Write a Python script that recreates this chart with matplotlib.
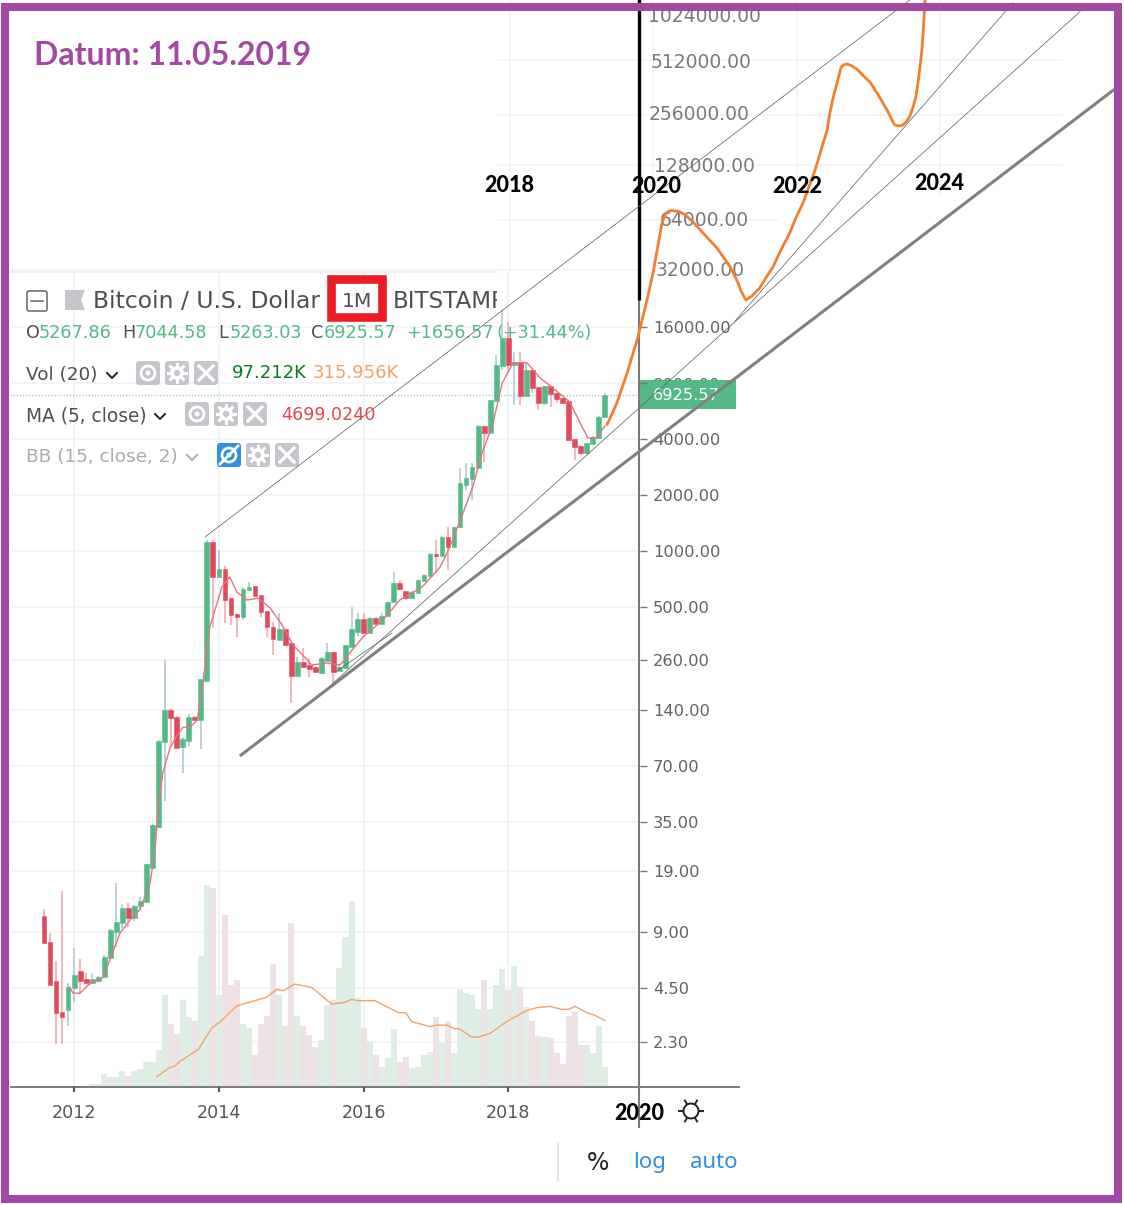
import numpy as np
import matplotlib
matplotlib.use("Agg")
import matplotlib.pyplot as plt
from matplotlib.patches import Rectangle, FancyBboxPatch, Circle, Polygon

# monthly candles, aug 2011 - may 2019
opens = [10.9, 7.91, 4.88, 3.33, 3.41, 4.47, 5.52, 5, 4.75, 4.88, 5.12, 6.49, 8.95, 9.98, 12.1, 10.6, 12.3, 12.9, 19.8, 32.9,
         94, 140, 128, 88.4, 95, 128, 124, 200, 1118, 725, 800, 558, 459, 442, 619, 648, 580, 475, 389, 332,
         381, 320, 213, 253, 243, 237, 220, 257, 286, 227, 234, 305, 367, 431, 363, 437, 405, 448, 532, 673,
         610, 558, 598, 690, 735, 964, 940, 1189, 1051, 1345, 2262, 2440, 2795, 4700, 4310, 6400, 9880, 13960, 10000, 10400,
         6820, 9390, 7620, 6250, 7700, 7060, 6640, 6400, 4000, 3665, 3364, 3760, 4050, 5267.86]
highs = [11.9, 8.84, 6.25, 14.8, 4.75, 7.35, 6.41, 5.38, 5.38, 5.2, 6.72, 9.3, 16.4, 12.6, 12.8, 12.5, 13.8, 20.8, 34, 96,
         259, 141, 129, 100, 133, 129, 206, 1146, 1146, 1012, 830, 560, 461, 640, 681, 650, 582, 477, 415, 463,
         383, 322, 270, 301, 266, 238, 270, 320, 288, 243, 313, 500, 463, 463, 440, 440, 463, 535, 771, 698,
         612, 610, 702, 750, 970, 1146, 1200, 1345, 1350, 2795, 2970, 2970, 4750, 4720, 6500, 11314, 19700, 17000, 11750, 11750,
         10300, 9450, 7650, 7750, 7720, 7080, 6660, 6420, 4020, 3680, 3820, 4130, 5300, 7044.58]
lows = [7.81, 4.64, 2.23, 2.23, 2.79, 3.77, 4.16, 4.75, 4.75, 4.85, 5.1, 6.45, 7.45, 9.4, 9.5, 10.3, 11.8, 12.8, 19.6, 32.5,
        45.3, 88.4, 87, 64, 89.5, 123, 86.3, 198, 386, 720, 410, 400, 345, 425, 615, 570, 442, 345, 276, 331,
        310, 152, 212, 236, 210, 220, 219, 256, 195, 226, 232, 303, 349, 362, 362, 403, 403, 446, 530, 622,
        545, 555, 595, 688, 730, 761, 935, 790, 1045, 1340, 2130, 1883, 2780, 3010, 4300, 6380, 9390, 9160, 6100, 6100,
        6800, 7060, 5730, 6100, 5950, 6250, 6200, 3930, 3090, 3300, 3340, 3740, 4030, 5263.03]
closes = [7.81, 4.64, 3.29, 3.13, 4.53, 5.25, 4.88, 4.75, 5, 5.12, 6.57, 9.18, 10.1, 12.1, 10.6, 12.4, 13.1, 20.8, 33.7, 95.2,
          140, 127, 87.3, 97.6, 128, 124, 205, 1118, 725, 800, 545, 453, 442, 625, 640, 573, 469, 389, 337, 381,
          312, 213, 253, 237, 231, 223, 266, 286, 223, 237, 312, 381, 431, 363, 437, 405, 448, 532, 673, 625,
          558, 602, 698, 743, 964, 940, 1189, 1051, 1345, 2320, 2470, 2828, 4700, 4310, 6480, 10000, 13960, 10000, 10400, 6820,
          9390, 7520, 6250, 7700, 6980, 6560, 6250, 3950, 3620, 3364, 3800, 4100, 5267, 6925.57]

# volume in thousands, starts at jan 2012 (month 5)
volumes = [5, 5, 6, 14, 14, 62, 46, 49, 78, 52, 78, 86, 120, 120, 176, 437, 299, 250, 413, 331,
           313, 622, 959, 943, 437, 817, 484, 508, 299, 278, 152, 299, 337, 584, 437, 291, 777, 337, 290, 248,
           192, 223, 389, 413, 564, 714, 885, 421, 279, 215, 152, 97, 136, 274, 120, 144, 89, 97, 152, 168,
           331, 211, 313, 163, 464, 448, 437, 370, 508, 370, 484, 559, 461, 575, 476, 381, 313, 242, 239, 231,
           160, 109, 339, 355, 199, 199, 160, 290, 97.212]

ma_month = [4.3, 4.8, 6.0, 7.3, 8.8, 9.8, 10.9, 12.6, 14.3, 15.9, 17.6, 18.4, 18.9, 19.7, 20.9, 22.1, 23.1, 24.2, 25.4, 26.2,
            27.0, 27.5, 29.5, 30.8, 32.0, 33.7, 35.5, 37.5, 39.5, 41.3, 42.95, 44.4, 46.9, 49.1, 50.7, 52.9, 56.2, 59.0, 62.7, 65.7,
            67.3, 69.5, 71.1, 72.8, 74.3, 76.0, 77.8, 80.1, 82.3, 84.4, 87.2, 88.9, 90.2, 91.7, 93]
ma_price = [4.53, 4.2, 4.2, 4.64, 4.93, 5.12, 6.33, 8.84, 10.4, 11.8, 16.4, 24.7, 39.1, 64.1, 87.3, 102.5, 113, 113, 123, 179,
            293, 390, 640, 725, 601, 545, 558, 494, 400, 312, 275, 244, 250, 244, 283, 345, 425, 545, 640, 820,
            1050, 1600, 2210, 3490, 4640, 8000, 10280, 10280, 8510, 7510, 6320, 4880, 4050, 4050, 4699.02]

vol_ma_month = [18.7, 20.9, 21.7, 22.6, 25.6, 27.8, 29.2, 32, 36.9, 38.6, 39.7, 41.6, 44.4, 47.7, 49.9, 51, 52.1, 54.9, 58.8, 60,
                61, 64, 65.1, 66.8, 67.9, 69, 70.9, 72, 74, 76.7, 80, 81.7, 83.9, 85.8, 87, 88.1, 90, 91.4, 93]
vol_ma = [49, 93, 100, 123, 179, 279, 310, 386, 426, 464, 457, 489, 473, 394, 402, 416, 410, 410, 353, 353,
          310, 287, 294, 294, 279, 275, 237, 237, 255, 310, 363, 377, 383, 369, 369, 383, 353, 340, 315.956]

# hand drawn forecast curve
fc_month = [93.4, 95, 96.7, 98.5, 100, 101, 102.5, 103, 103.5, 104.1, 105.3, 106.3, 107.6, 108.8, 111.6, 113.8, 115.1, 115.6, 116.4, 117.4,
            118.7, 119.7, 120.9, 122.2, 123.7, 124.7, 125.9, 127.9, 128.9, 129.9, 130.3, 130.8, 131.5, 132.2, 132.7, 133.2, 134, 134.8, 135.8, 137,
            138.6, 140, 140.5, 141, 141.6, 142.3, 143, 143.6, 144.1, 144.6, 144.9, 145.3, 145.6, 145.8, 146.1]
fc_price = [4800, 6240, 9050, 14140, 22350, 31200, 61450, 68500, 71500, 72500, 71500, 68500, 62300, 55920, 43700, 33800, 27600, 24980, 22350, 23480,
            25930, 29340, 33800, 42500, 53700, 65800, 80700, 126300, 165600, 216700, 267000, 326000, 405000, 505000, 522000, 526000, 512000, 491000, 452000, 411000,
            335000, 274000, 252600, 232000, 227900, 228900, 240700, 259600, 292000, 339700, 399000, 512000, 643000, 810000, 1252000]

# trend lines: (month, price) at both ends
thin_lines = [((26.7, 143.6), (1189, 1252000)),
              ((47.4, 171.8), (188, 1066000)),
              ((114.6, 160.7), (17230, 1205000)),
              ((48.3, 57.7), (223.6, 362))]
thick_line = ((32.67, 177.3), (80, 368600))

year_labels = ["2012", "2014", "2016", "2018"]
year_months = [5, 29, 53, 77]
low_ticks = [2.3, 4.5, 9, 19, 35, 70, 140, 260, 500, 1000, 2000, 4000, 8000, 16000]
high_ticks = [32000, 64000, 128000, 256000, 512000, 1024000]
high_tick_left = [656, 660, 654, 649, 651, 648]
# the upper part is a pasted, unevenly stretched scale, so its rows are placed by hand
high_tick_row = [270, 220, 165, 113, 61, 15]

W, H = 1124, 1206
GREEN = "#53b987"
RED = "#e04a5c"
GRID = "#f2f4f9"
TICK = "#5f6268"
UI = "#4f4f4f"
PURPLE = "#a349a4"
ICON = "#c4c6cc"
BLUE = "#2f8fe4"
PX_MONTH = 6.03


def forward(p):
    l = np.log2(np.asarray(p, dtype=float) / 1000)
    return np.where(l < 5, l * 56, 280 + (l - 5) * 51.25)


def inverse(f):
    f = np.asarray(f, dtype=float)
    return 1000 * 2 ** np.where(f < 280, f / 56, 5 + (f - 280) / 51.25)


def month_at(px):
    return (px - 44) / PX_MONTH


fig = plt.figure(figsize=(W / 100, H / 100), dpi=100, facecolor="white")
xlim = (month_at(0), month_at(W))

# labels and grid under the chart, pixel coordinates
under = fig.add_axes([0, 0, 1, 1], zorder=0)
under.set_xlim(0, W)
under.set_ylim(H, 0)
under.axis("off")

vol_ax = fig.add_axes([0, 0, 1, 1], zorder=1)
vol_ax.patch.set_alpha(0)
vol_ax.set_xlim(*xlim)
vol_ax.set_ylim(-119 * 4.75, 1087 * 4.75)
vol_ax.axis("off")

ax = fig.add_axes([0, 0, 1, 1], zorder=2)
ax.patch.set_alpha(0)
ax.set_yscale("function", functions=(forward, inverse))
ax.set_xlim(*xlim)
ax.set_ylim(float(inverse(-655)), float(inverse(551)))
ax.axis("off")

top = fig.add_axes([0, 0, 1, 1], zorder=3)
top.patch.set_alpha(0)
top.set_xlim(0, W)
top.set_ylim(H, 0)
top.axis("off")

# grid
low_rows = [551 - float(forward(v)) for v in low_ticks]
under.hlines(low_rows + [high_tick_row[0]], 10, 638, color=GRID, lw=1.2, zorder=1)
under.hlines([165, 115, 60], 497, 1063, color=GRID, lw=1.2, zorder=1)
under.hlines(220, 497, 778, color=GRID, lw=1.2, zorder=1)
under.hlines(272, 10, 497, color="#e9ecf2", lw=1.1, zorder=1)
under.vlines([44 + m * PX_MONTH for m in year_months], 272, 1087, color="#eef2f7", lw=1.2, zorder=1)
under.vlines([510, 653, 797, 940], 0, 195, color=GRID, lw=1.2, zorder=1)
under.vlines(510, 195, 272, color=GRID, lw=1.2, zorder=1)

# volume
months = np.arange(len(closes))
vol_months = months[5:]
vol_colors = ["#deeee5" if closes[m] >= opens[m] else "#efe2e5" for m in vol_months]
vol_ax.bar(vol_months, volumes, width=1.0, color=vol_colors, lw=0)
vol_ax.plot(vol_ma_month, vol_ma, color="#f0a468", lw=1.0)
vol_ax.hlines(0, month_at(10), month_at(740), color="#55585e", lw=1.1)
vol_ax.vlines(year_months, -26, 0, color="#55585e", lw=1.6)

# candles
up = np.array(closes) >= np.array(opens)
wick_colors = ["#a9c6d2" if u else "#f0a4ad" for u in up]
body_colors = [GREEN if u else RED for u in up]
ax.vlines(months, lows, highs, colors=wick_colors, lw=1.1, zorder=2)
body_low = np.minimum(opens, closes)
body_high = np.maximum(opens, closes)
ax.bar(months, body_high - body_low, bottom=body_low, width=0.78, color=body_colors, edgecolor=body_colors, lw=0.4, zorder=3)
ax.plot(ma_month, ma_price, color="#e8737b", lw=1.0, zorder=4)
ax.hlines(closes[-1], month_at(10), month_at(638), color="#86cdaa", lw=0.9, ls=(0, (1, 1.5)), zorder=2)

# axis lines and ticks
ax.vlines(month_at(638.5), 0.793, 22350, color="#77797e", lw=1.5, zorder=5)
ax.vlines(month_at(638.5), 22350, 1400000, color="black", lw=2.4, zorder=5)
ax.hlines(low_ticks, month_at(640), month_at(647), color="#77797e", lw=1.0, zorder=5)

# trend lines and forecast
for xs, ys in thin_lines:
    ax.plot(xs, ys, color="#666666", lw=0.55, zorder=6)
ax.plot(*thick_line, color="#808080", lw=2.2, zorder=6)
ax.plot(fc_month, fc_price, color="#f08030", lw=2.0, solid_joinstyle="round", zorder=7)


def put(layer, x, y, s, size, color, ha="left", **kw):
    return layer.text(x, y + 1.5, s, fontsize=size, color=color, ha=ha, va="center", **kw)


def chevron(x, y, color):
    under.plot([x - 5, x, x + 5], [y - 2, y + 3, y - 2], color=color, lw=1.4)


def icon_box(cx, cy, kind, face=ICON):
    under.add_patch(FancyBboxPatch((cx - 10, cy - 10), 20, 20, boxstyle="round,pad=2,rounding_size=3", fc=face, ec="none"))
    if kind == "eye" or kind == "noeye":
        under.add_patch(Circle((cx, cy), 7, fc="none", ec="white", lw=2))
        under.add_patch(Circle((cx, cy), 2.5, fc="white", ec="none"))
        if kind == "noeye":
            under.plot([cx - 9, cx + 9], [cy + 9, cy - 9], color="white", lw=2)
    elif kind == "gear":
        under.add_patch(Circle((cx, cy), 5, fc="none", ec="white", lw=2.6))
        for a in np.deg2rad(np.arange(0, 360, 45)):
            under.plot([cx + 6 * np.cos(a), cx + 9 * np.cos(a)], [cy + 6 * np.sin(a), cy + 9 * np.sin(a)], color="white", lw=2.2)
    else:
        under.plot([cx - 7, cx + 7], [cy - 7, cy + 7], color="white", lw=2.4)
        under.plot([cx - 7, cx + 7], [cy + 7, cy - 7], color="white", lw=2.4)


# price labels
for v, r in zip(low_ticks, low_rows):
    if v == 8000:
        continue
    under.text(653, r + 1.5, f"{v:.2f}", fontsize=11.7, color=TICK, va="center", zorder=3)
put(under, 653, 384, "8000.00", 11.7, TICK, zorder=3)
under.add_patch(Rectangle((638, 380), 98, 29, fc=GREEN, ec="none", zorder=4))
put(under, 653, 393.5, f"{closes[-1]:.2f}", 11.7, "white", zorder=5)
for v, left, r in zip(high_ticks, high_tick_left, high_tick_row):
    under.text(left, r + 1, f"{v:.2f}", fontsize=13.5, color="#7a7a7a", va="center", zorder=3)

for lab, m in zip(year_labels, year_months):
    put(under, 44 + m * PX_MONTH, 1111, lab, 12.6, "#53565c", ha="center", zorder=3)

# legend block
under.add_patch(FancyBboxPatch((28, 292), 18, 18, boxstyle="round,pad=1,rounding_size=2", fc="white", ec="#666666", lw=1.1))
under.plot([31, 43], [301, 301], color="#666666", lw=1.1)
under.add_patch(Polygon([(65, 290), (85, 290), (81, 300), (85, 310), (65, 310)], fc=ICON, ec="none"))
put(under, 93, 300, "Bitcoin / U.S. Dollar", 16.9, UI)
put(under, 342, 300, "1M", 14.6, UI)
bitstamp = put(under, 393, 300, "BITSTAMP", 16.6, UI)
bitstamp.set_clip_on(True)
bitstamp.set_clip_path(Rectangle((380, 280), 117, 40, transform=under.transData))

row = [(26, "O", UI), (39, "5267.86", GREEN), (122, "H", UI), (135, "7044.58", GREEN), (218, "L", UI), (230, "5263.03", GREEN),
       (311, "C", UI), (324, "6925.57", GREEN), (406, "+1656.57", GREEN), (497, "(+31.44%)", GREEN)]
for x, s, c in row:
    put(under, x, 332, s, 12.7, c, zorder=3)

put(under, 26, 373, "Vol (20)", 13.2, UI, zorder=3)
chevron(112, 375, "#222222")
for cx, kind in zip([148, 177, 206], ["eye", "gear", "x"]):
    icon_box(cx, 373, kind)
put(under, 232, 372, "97.212K", 13, "#0b7a1e", zorder=3)
put(under, 313, 372, "315.956K", 13, "#f0a468", zorder=3)

put(under, 26, 414, "MA (5, close)", 13.4, UI, zorder=3)
chevron(160, 416, "#222222")
for cx, kind in zip([197, 226, 255], ["eye", "gear", "x"]):
    icon_box(cx, 414, kind)
put(under, 281, 414, "4699.0240", 12.6, "#e0484c", zorder=3)

put(under, 26, 455, "BB (15, close, 2)", 13.3, "#a9abb0", zorder=3)
chevron(192, 457, "#a9abb0")
icon_box(229, 455, "noeye", face=BLUE)
icon_box(258, 455, "gear")
icon_box(287, 455, "x")

# bottom controls
under.plot([558, 558], [1143, 1181], color="#e0e3eb", lw=1.2)
put(under, 598, 1161, "%", 17, "#222222", ha="center")
put(under, 650, 1161, "log", 16, BLUE, ha="center", family="Noto Sans")
put(under, 714, 1161, "auto", 16, BLUE, ha="center", family="Noto Sans")
under.add_patch(Circle((691, 1111), 7.5, fc="none", ec="#222222", lw=1.4))
for a in np.deg2rad(np.arange(0, 360, 60) + 30):
    under.plot([691 + 8 * np.sin(a), 691 + 12 * np.sin(a)], [1111 + 8 * np.cos(a), 1111 + 12 * np.cos(a)], color="#222222", lw=1.4)

# pasted annotations
put(top, 34, 54, "Datum: 11.05.2019", 23, PURPLE, family="Lato", weight="bold")
for x, y, s in [(509, 184, "2018"), (656, 185, "2020"), (797, 185, "2022"), (939, 182, "2024"), (639, 1112, "2020")]:
    put(top, x, y, s, 15.5, "black", ha="center", family="Lato", weight="black")
top.add_patch(Rectangle((330.5, 279), 51, 38, fc="none", ec="#ed1c24", lw=6.2, joinstyle="miter"))
top.add_patch(Rectangle((4.5, 7), 1113, 1192, fc="none", ec=PURPLE, lw=5.8, joinstyle="miter"))

fig.savefig("out.png", dpi=100)
